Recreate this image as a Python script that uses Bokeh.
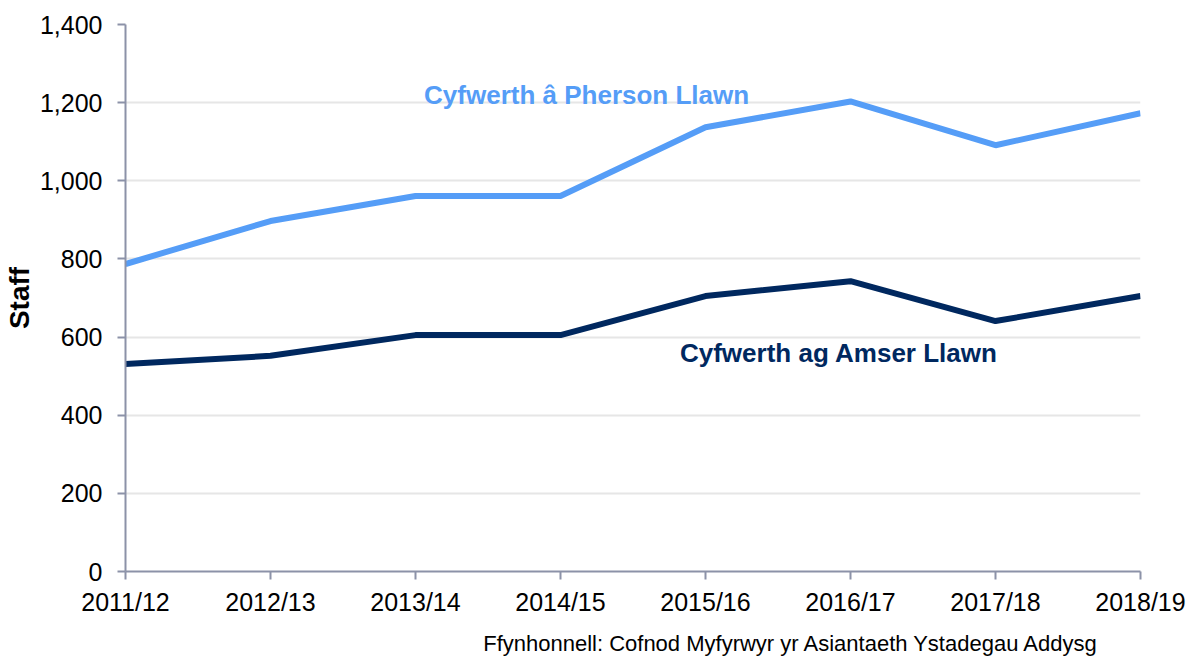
from bokeh.plotting import figure
from bokeh.models import Range1d, FixedTicker, NumeralTickFormatter, Label, Title
from bokeh.embed import file_html
from bokeh.resources import INLINE

years = ["2011/12", "2012/13", "2013/14", "2014/15", "2015/16", "2016/17", "2017/18", "2018/19"]
fte_person = [787, 897, 961, 961, 1137, 1203, 1091, 1173]
fte_time = [531, 552, 605, 605, 705, 743, 641, 705]
y_ticks = [0, 200, 400, 600, 800, 1000, 1200, 1400]

xs = list(range(len(years)))
FONT = "Liberation Sans"
AXIS_C = "#8C92A8"

p = figure(width=1190, height=666, output_backend="svg", toolbar_location=None,
           x_range=Range1d(0, len(years) - 1), y_range=Range1d(0, 1400),
           min_border_left=124, min_border_right=50, min_border_top=24, min_border_bottom=94)
p.outline_line_color = None
p.background_fill_color = "white"
p.border_fill_color = "white"

p.line(xs, fte_person, line_color="#559DF7", line_width=6)
p.line(xs, fte_time, line_color="#00285F", line_width=6)

p.xaxis.ticker = FixedTicker(ticks=xs)
p.xaxis.major_label_overrides = {i: y for i, y in enumerate(years)}
p.yaxis.ticker = FixedTicker(ticks=y_ticks)
p.yaxis.formatter = NumeralTickFormatter(format="0,0")

for ax in (p.xaxis[0], p.yaxis[0]):
    ax.axis_line_color = AXIS_C
    ax.axis_line_width = 2
    ax.major_tick_line_color = AXIS_C
    ax.major_tick_line_width = 2
    ax.major_tick_out = 8
    ax.major_tick_in = 0
    ax.minor_tick_line_color = None
    ax.major_label_text_font = FONT
    ax.major_label_text_font_size = "25px"
    ax.major_label_text_color = "black"

p.xaxis.major_label_standoff = 8
p.yaxis.major_label_standoff = 15

yax = p.yaxis[0]
yax.axis_label = "Staff"
yax.axis_label_text_font = FONT
yax.axis_label_text_font_size = "28px"
yax.axis_label_text_font_style = "bold"
yax.axis_label_text_color = "black"
yax.axis_label_standoff = 2

p.xgrid.grid_line_color = None
p.ygrid.grid_line_color = "#E6E6E6"
p.ygrid.grid_line_width = 2

p.add_layout(Label(x=3.18, y=1219, text="Cyfwerth â Pherson Llawn", text_font=FONT,
                   text_font_size="26px", text_font_style="bold", text_color="#559DF7",
                   text_align="center", text_baseline="middle"))
p.add_layout(Label(x=4.92, y=559, text="Cyfwerth ag Amser Llawn", text_font=FONT,
                   text_font_size="26px", text_font_style="bold", text_color="#00285F",
                   text_align="center", text_baseline="middle"))
p.add_layout(Title(text="Ffynhonnell: Cofnod Myfyrwyr yr Asiantaeth Ystadegau Addysg",
                   align="right", offset=41, text_font=FONT, text_font_size="22px",
                   text_font_style="normal", text_color="black", standoff=21), "below")

open("out.html", "w").write(file_html(p, INLINE))
